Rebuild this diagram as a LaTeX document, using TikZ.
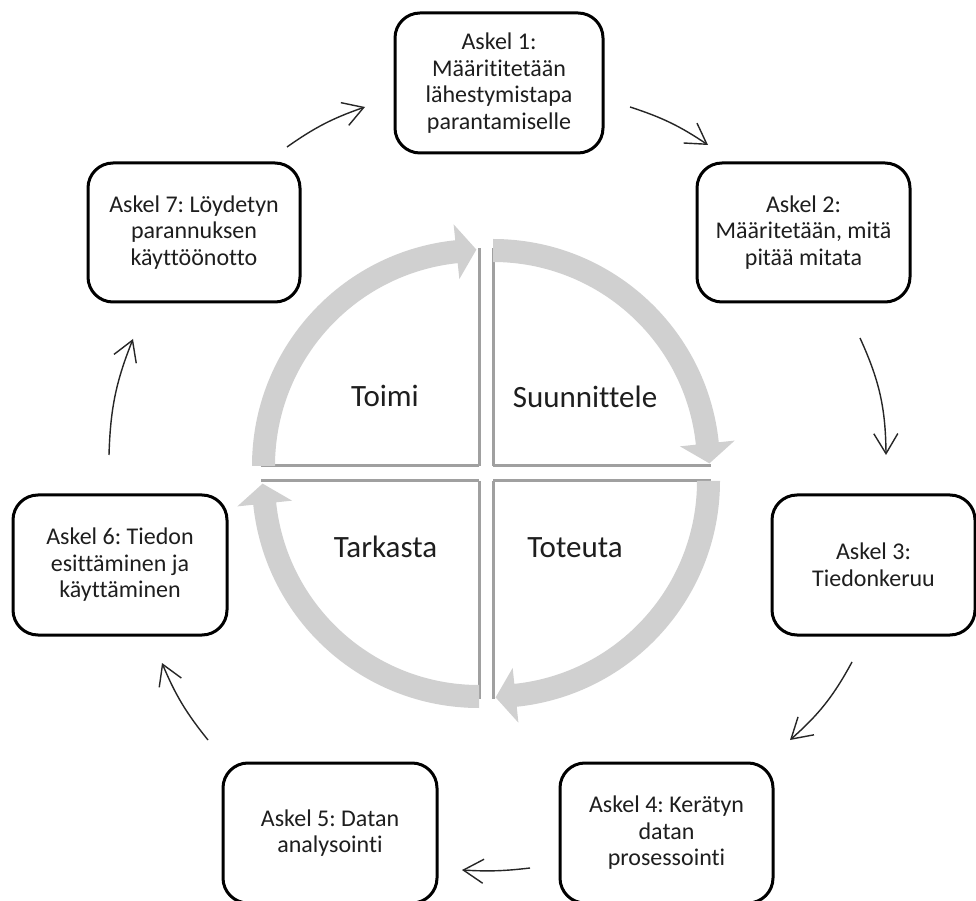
\documentclass[tikz,border=0pt]{standalone}
\usepackage{fontspec}
\setmainfont[Ligatures={NoCommon}]{Carlito}
\frenchspacing
\usetikzlibrary{arrows.meta}
\definecolor{ringgray}{RGB}{208,208,208}
\definecolor{edgegray}{RGB}{160,160,160}
\definecolor{txtgray}{RGB}{30,30,30}
\newcommand{\quadband}[2]{%
  \begin{scope}[shift={(#1)}]
    \pgfmathsetmacro\qsa{#2}
    \pgfmathsetmacro\qea{#2-84}
    \pgfmathsetmacro\qta{#2-174}
    \pgfmathsetmacro\qtx{215.5*cos(\qea)+20*cos(\qta)}
    \pgfmathsetmacro\qty{215.5*sin(\qea)+20*sin(\qta)}
    \fill[ringgray] (\qsa:204pt) arc[start angle=\qsa, end angle=\qea, radius=204pt]
      -- (\qea:188pt) -- (\qtx pt,\qty pt) -- (\qea:243pt) -- (\qea:227pt)
      arc[start angle=\qea, end angle=\qsa, radius=227pt] -- cycle;
  \end{scope}}
\begin{document}
\begin{tikzpicture}[x=1pt,y=1pt,
  stepbox/.style={draw=black, line width=3pt, rounded corners=25pt, align=center,
    inner sep=0pt, outer sep=0pt, text=txtgray, font=\fontsize{24}{26.5}\selectfont},
  biglabel/.style={inner sep=0pt, text=txtgray, font=\fontsize{31}{36}\selectfont},
  edge/.style={draw=edgegray, line width=3pt},
  conn/.style={draw=black!85, line width=1.4pt, -{Straight Barb[length=20pt,width=24pt]}}]
\useasboundingbox (0,0) rectangle (976,900);
\fill[white] (0,0) rectangle (976,900);

% quadrant corners
\coordinate (c1) at (493,434);
\coordinate (c2) at (479,434);
\coordinate (c3) at (479,419);
\coordinate (c4) at (493,419);

% quadrant edges
\draw[edge] (c1) -- ++(0,218);
\draw[edge] (c1) -- ++(218,0);
\draw[edge] (c2) -- ++(0,218);
\draw[edge] (c2) -- ++(-218,0);
\draw[edge] (c3) -- ++(0,-218);
\draw[edge] (c3) -- ++(-218,0);
\draw[edge] (c4) -- ++(0,-218);
\draw[edge] (c4) -- ++(218,0);

% ring arrows
\quadband{c1}{90}
\quadband{c2}{180}
\quadband{c3}{270}
\quadband{c4}{360}

% centre labels
\node[biglabel] (lsuun) at (585,503) {Suunnittele};
\node[biglabel] (ltoimi) at (385,504) {Toimi};
\node[biglabel] (ltark) at (385.5,353) {Tarkasta};
\node[biglabel] (ltot) at (575,352) {Toteuta};

% step boxes
\node[stepbox, minimum width=208pt, minimum height=140pt] (b1) at (499,817)
  {Askel 1:\\Määrititetään\\lähestymistapa\\parantamiselle};
\node[stepbox, minimum width=213pt, minimum height=139pt] (b2) at (803.5,667.5)
  {Askel 2:\\Määritetään, mitä\\pitää mitata};
\node[stepbox, minimum width=203pt, minimum height=140pt] (b3) at (873.5,335)
  {Askel 3:\\Tiedonkeruu};
\node[stepbox, minimum width=213pt, minimum height=140pt] (b4) at (666.5,67)
  {Askel 4: Kerätyn\\datan\\prosessointi};
\node[stepbox, minimum width=214pt, minimum height=140pt] (b5) at (330,67)
  {Askel 5: Datan\\analysointi};
\node[stepbox, minimum width=214pt, minimum height=140pt] (b6) at (120,335)
  {Askel 6: Tiedon\\esittäminen ja\\käyttäminen};
\node[stepbox, minimum width=212pt, minimum height=139pt] (b7) at (194,667.5)
  {Askel 7: Löydetyn\\parannuksen\\käyttöönotto};

% connector end points
\coordinate (s71) at (287,753);  \coordinate (e71) at (365,793);
\coordinate (s12) at (630,793);  \coordinate (e12) at (708,755);
\coordinate (s23) at (860,562);  \coordinate (e23) at (886,445);
\coordinate (s34) at (852,238);  \coordinate (e34) at (790,160);
\coordinate (s45) at (530,32);   \coordinate (e45) at (462,30);
\coordinate (s56) at (208,160);  \coordinate (e56) at (162,237);
\coordinate (s67) at (109,445);  \coordinate (e67) at (133,561);

\draw[conn] (s71) to[bend left=8] (e71);
\draw[conn] (s12) to[bend left=8] (e12);
\draw[conn] (s23) to[bend left=12] (e23);
\draw[conn] (s34) to[bend left=10] (e34);
\draw[conn] (s45) to[bend left=5] (e45);
\draw[conn] (s56) to[bend left=8] (e56);
\draw[conn] (s67) to[bend left=10] (e67);
\end{tikzpicture}
\end{document}
